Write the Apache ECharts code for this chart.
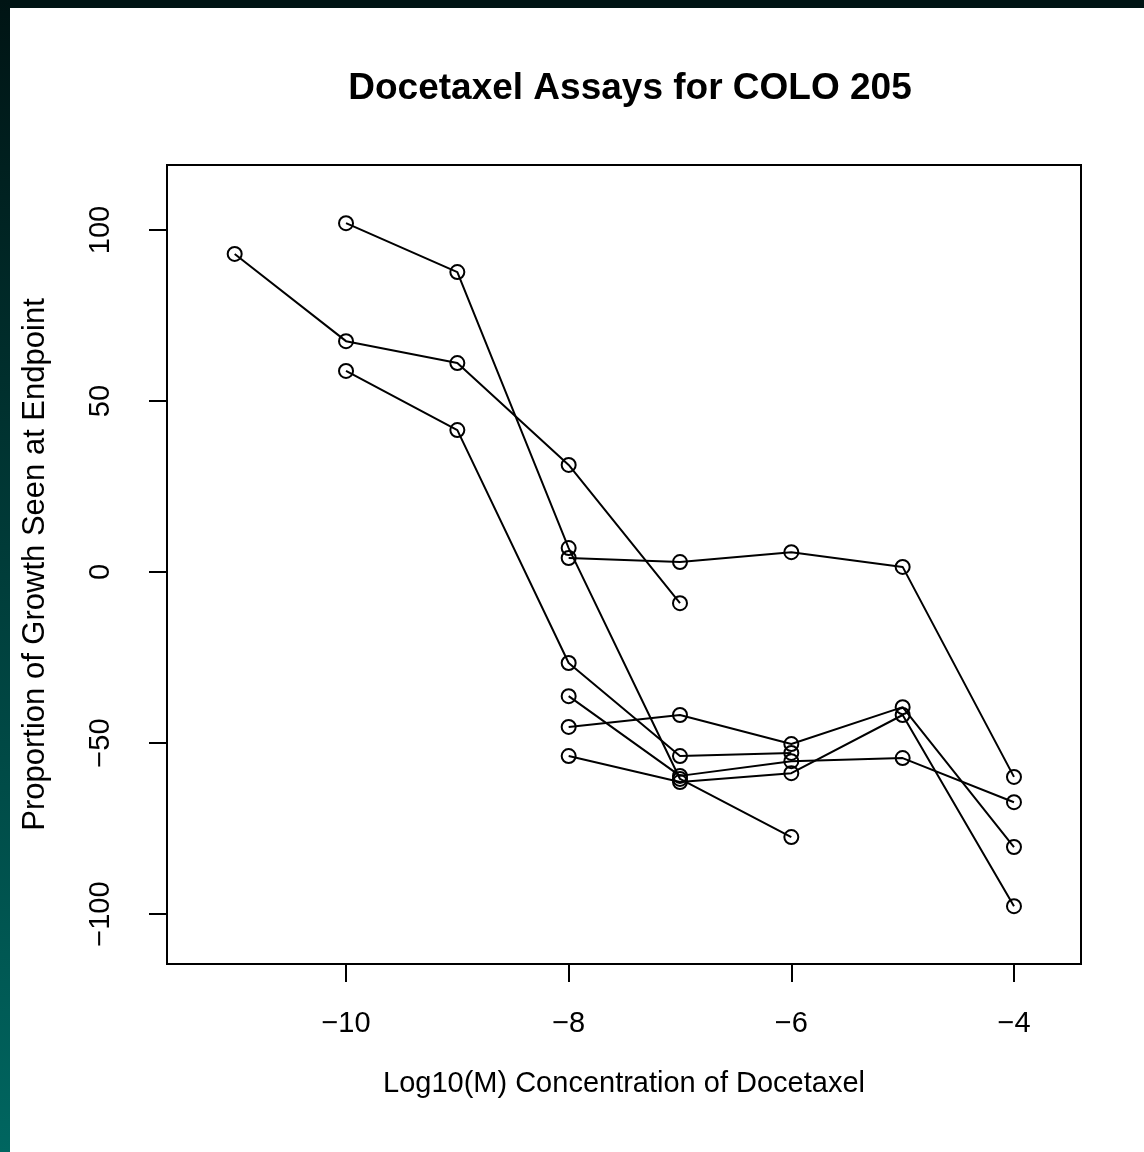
<!DOCTYPE html>
<html>
<head>
<meta charset="utf-8">
<script src="https://cdn.jsdelivr.net/npm/echarts@6/dist/echarts.min.js"></script>
<style>
  html, body { margin: 0; padding: 0; background: #ffffff; }
  #chart { width: 1144px; height: 1152px; }
</style>
</head>
<body>
<div id="chart"></div>
<script>
// ---- data ----
const titleText = "Docetaxel Assays for COLO 205";
const xTitle = "Log10(M) Concentration of Docetaxel";
const yTitle = "Proportion of Growth Seen at Endpoint";

const xTicks = [-10, -8, -6, -4];
const yTicks = [-100, -50, 0, 50, 100];

// log10 concentrations for each assay
const concA = [-11, -10, -9, -8, -7];
const concB = [-10, -9, -8, -7, -6];
const concC = [-10, -9, -8, -7, -6];
const concD = [-8, -7, -6, -5, -4];
const concE = [-8, -7, -6, -5, -4];
const concF = [-8, -7, -6, -5, -4];
const concG = [-8, -7, -6, -5, -4];

// proportion of growth for each assay
const growthA = [93.0, 67.5, 61.1, 31.3, -9.1];
const growthB = [102.0, 87.7, 7.0, -60.5, -77.5];
const growthC = [58.8, 41.5, -26.6, -53.8, -52.9];
const growthD = [4.1, 2.9, 5.8, 1.5, -59.9];
const growthE = [-36.3, -59.6, -55.3, -54.4, -67.3];
const growthF = [-45.3, -41.8, -50.3, -39.5, -80.4];
const growthG = [-53.8, -61.4, -58.8, -41.8, -97.7];

const assays = [
  [concA, growthA], [concB, growthB], [concC, growthC],
  [concD, growthD], [concE, growthE], [concF, growthF], [concG, growthG]
];

const FONT = "'Liberation Sans', Arial, Helvetica, sans-serif";
const fmt = v => String(v).replace('-', '\u2212');

const chart = echarts.init(document.getElementById('chart'), null, { renderer: 'canvas' });

const series = assays.map(([xs, ys], i) => ({
  type: 'line',
  name: 'assay' + (i + 1),
  data: xs.map((x, k) => [x, ys[k]]),
  symbol: 'circle',
  symbolSize: 14,
  showSymbol: true,
  itemStyle: { color: 'rgba(0,0,0,0)', borderColor: '#000', borderWidth: 2 },
  lineStyle: { color: '#000', width: 2 },
  emphasis: { disabled: true },
  silent: true,
  z: 3
}));

chart.setOption({
  animation: false,
  backgroundColor: '#ffffff',
  title: {
    text: titleText,
    left: 625,
    top: 65,
    textAlign: 'center',
    textStyle: { fontFamily: FONT, fontSize: 37, fontWeight: 'bold', color: '#000' }
  },
  graphic: [
    { type: 'rect', left: 0, top: 0, shape: { width: 1144, height: 8 },
      style: { fill: '#001414' }, z: 100 },
    { type: 'rect', left: 0, top: 0, shape: { width: 10, height: 1152 },
      style: { fill: new echarts.graphic.LinearGradient(0, 0, 0, 1, [
        { offset: 0, color: '#001414' }, { offset: 1, color: '#006660' }]) }, z: 100 }
  ],
  grid: {
    left: 167, top: 165, width: 914, height: 799,
    show: true, borderColor: '#000', borderWidth: 2, backgroundColor: 'transparent'
  },
  xAxis: {
    type: 'value',
    min: -11.608, max: -3.398,
    name: xTitle,
    nameLocation: 'middle',
    nameGap: 105,
    nameTextStyle: { fontFamily: FONT, fontSize: 29, color: '#000' },
    axisLine: { show: false, onZero: false },
    splitLine: { show: false },
    axisTick: { show: true, customValues: xTicks, length: 18, inside: false,
      lineStyle: { color: '#000', width: 2 } },
    axisLabel: { show: true, customValues: xTicks, margin: 45, formatter: fmt,
      fontFamily: FONT, fontSize: 29, color: '#000' }
  },
  yAxis: {
    type: 'value',
    min: -114.6, max: 119.0,
    name: yTitle,
    nameLocation: 'middle',
    nameRotate: 90,
    nameGap: 116,
    nameTextStyle: { fontFamily: FONT, fontSize: 31, color: '#000' },
    axisLine: { show: false, onZero: false },
    splitLine: { show: false },
    axisTick: { show: true, customValues: yTicks, length: 18, inside: false,
      lineStyle: { color: '#000', width: 2 } },
    axisLabel: { show: true, customValues: yTicks, rotate: 90, margin: 52, formatter: fmt,
      fontFamily: FONT, fontSize: 29, color: '#000' }
  },
  series: series
});
</script>
</body>
</html>
